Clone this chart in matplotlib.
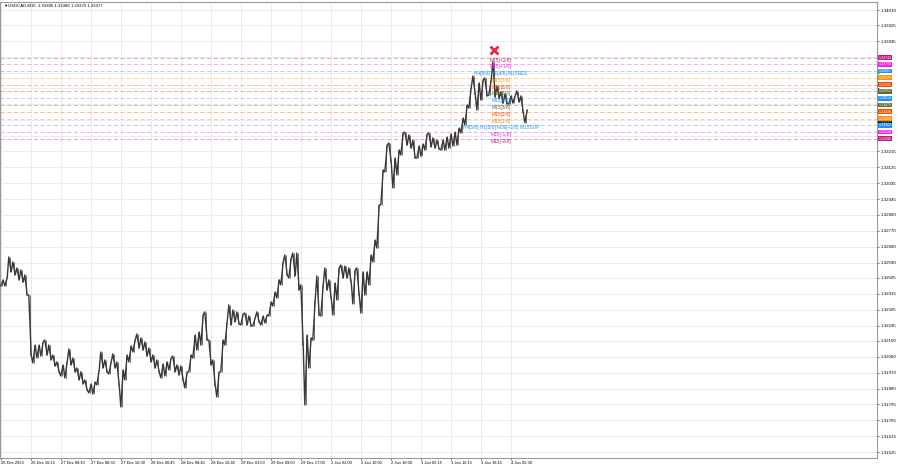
import numpy as np
import matplotlib
matplotlib.use("Agg")
import matplotlib.pyplot as plt

plt.rcParams['font.family'] = ['Liberation Sans', 'DejaVu Sans']

# USDCAD M15 price envelope, one sample per group of bars (high / low)
highs = [1.32493, 1.32504, 1.32622, 1.32594, 1.32560, 1.32549, 1.32521, 1.32408, 1.32127, 1.32127,
         1.32144, 1.32155, 1.32127, 1.32071, 1.32032, 1.32015, 1.32032, 1.32105, 1.32054, 1.31998,
         1.31976, 1.31931, 1.31908, 1.31919, 1.31987, 1.32088, 1.32043, 1.32032, 1.32077, 1.32032,
         1.31987, 1.32071, 1.32122, 1.32155, 1.32189, 1.32167, 1.32144, 1.32110, 1.32071, 1.32043,
         1.32020, 1.32032, 1.32054, 1.32065, 1.32015, 1.32009, 1.31976, 1.32071, 1.32183, 1.32200,
         1.32296, 1.32313, 1.32155, 1.32043, 1.31976, 1.32155, 1.32257, 1.32352, 1.32324, 1.32313,
         1.32301, 1.32307, 1.32290, 1.32279, 1.32313, 1.32290, 1.32296, 1.32369, 1.32425, 1.32493,
         1.32594, 1.32633, 1.32616, 1.32644, 1.32644, 1.32465, 1.32183, 1.32167, 1.32380, 1.32515,
         1.32465, 1.32560, 1.32493, 1.32476, 1.32560, 1.32577, 1.32571, 1.32560, 1.32549, 1.32560,
         1.32538, 1.32538, 1.32633, 1.32717, 1.32914, 1.33111, 1.33251, 1.33263, 1.33178, 1.33223,
         1.33319, 1.33324, 1.33308, 1.33279, 1.33246, 1.33257, 1.33313, 1.33319, 1.33291, 1.33279,
         1.33279, 1.33296, 1.33313, 1.33324, 1.33347, 1.33403, 1.33476, 1.33572, 1.33639, 1.33600,
         1.33617, 1.33628, 1.33617, 1.33718, 1.33583, 1.33549, 1.33538, 1.33527, 1.33527, 1.33555,
         1.33527, 1.33448]
lows = [1.32459, 1.32459, 1.32538, 1.32521, 1.32493, 1.32481, 1.32408, 1.32071, 1.32026, 1.32054,
        1.32065, 1.32071, 1.32043, 1.32009, 1.31976, 1.31953, 1.31942, 1.32015, 1.31976, 1.31931,
        1.31908, 1.31874, 1.31858, 1.31852, 1.31903, 1.31998, 1.31976, 1.31964, 1.31998, 1.31903,
        1.31779, 1.31931, 1.32032, 1.32088, 1.32110, 1.32099, 1.32065, 1.32032, 1.31998, 1.31976,
        1.31942, 1.31953, 1.31987, 1.31976, 1.31959, 1.31931, 1.31886, 1.31976, 1.32054, 1.32099,
        1.32127, 1.32155, 1.32015, 1.31903, 1.31835, 1.31976, 1.32127, 1.32240, 1.32257, 1.32245,
        1.32240, 1.32240, 1.32234, 1.32234, 1.32257, 1.32240, 1.32251, 1.32290, 1.32346, 1.32391,
        1.32465, 1.32521, 1.32504, 1.32515, 1.32436, 1.32127, 1.31790, 1.31998, 1.32155, 1.32296,
        1.32290, 1.32436, 1.32391, 1.32296, 1.32380, 1.32504, 1.32504, 1.32481, 1.32358, 1.32408,
        1.32307, 1.32408, 1.32465, 1.32594, 1.32672, 1.32914, 1.33100, 1.33156, 1.33010, 1.33083,
        1.33195, 1.33251, 1.33234, 1.33178, 1.33178, 1.33189, 1.33223, 1.33240, 1.33234, 1.33229,
        1.33223, 1.33223, 1.33234, 1.33246, 1.33251, 1.33319, 1.33364, 1.33459, 1.33538, 1.33448,
        1.33504, 1.33527, 1.33532, 1.33521, 1.33515, 1.33487, 1.33482, 1.33482, 1.33487, 1.33493,
        1.33437, 1.33377]

time_labels = ["26 Dec 2023", "26 Dec 16:15", "27 Dec 00:30", "27 Dec 08:30", "27 Dec 16:30",
               "28 Dec 00:45", "28 Dec 08:45", "28 Dec 16:45", "29 Dec 01:00", "29 Dec 09:00",
               "29 Dec 17:00", "2 Jan 02:00", "2 Jan 10:00", "2 Jan 18:00", "3 Jan 02:15",
               "3 Jan 10:15", "3 Jan 18:15", "4 Jan 02:30"]

price_ticks = [1.34010, 1.33925, 1.33835, 1.33745, 1.33655, 1.33570, 1.33480, 1.33390, 1.33300,
               1.33215, 1.33125, 1.33035, 1.32945, 1.32860, 1.32770, 1.32680, 1.32590, 1.32505,
               1.32415, 1.32325, 1.32235, 1.32150, 1.32060, 1.31970, 1.31880, 1.31795, 1.31705,
               1.31615, 1.31525]
# tick labels covered by the level price boxes in the terminal
hidden_ticks = [1.33745, 1.33655, 1.33570, 1.33480, 1.33390, 1.33300]

# Murrey math levels
levels = [1.33743, 1.33705, 1.33667, 1.33629, 1.33591, 1.33553, 1.33514, 1.33476, 1.33438,
          1.33400, 1.33362, 1.33324, 1.33286]
level_names = ["M15[+2/8]", "M15[+1/8]", "H4[8/8] H1[8/8] M15RES", "M15[7/8]", "M15[6/8]",
               "M15[5/8]", "M15[4/8]", "M15[3/8]", "M15[2/8]", "M15[1/8]",
               "H4[5/8] H1[5/8] M30[+2/8] M15SUP", "M15[-1/8]", "M15[-2/8]"]
level_colors = ["#c8157f", "#f21ff2", "#1e90ff", "#ff8c00", "#ff4500", "#556b2f", "#1e90ff",
                "#556b2f", "#ff4500", "#ff8c00", "#1e90ff", "#f21ff2", "#c8157f"]

last_price = 1.33377
marker_price = 1.33785
header = "USDCAD,M15  1.33386 1.33386 1.33375 1.33377"

fig = plt.figure(figsize=(9, 4.68), dpi=100)
ax = fig.add_axes([0.0, 0.0214, 0.9745, 0.9743])

xs = np.arange(len(highs)) * 4 + 2

# zig-zag through each sample's high and low so it reads like dense candles
zx, zy = [], []
mids = [(h + l) / 2 for h, l in zip(highs, lows)]
for i in range(len(highs)):
    nxt = mids[i + 1] if i + 1 < len(mids) else mids[i]
    if nxt >= mids[i]:
        pair = (lows[i], highs[i])
    else:
        pair = (highs[i], lows[i])
    zx += [xs[i] - 1.2, xs[i] + 1.2]
    zy += list(pair)
ax.plot(zx, zy, color='#383838', lw=1.0, zorder=4)
ax.vlines(xs, lows, highs, color='#707070', lw=0.7, zorder=3)

ax.set_xlim(0, 877)
ax.set_ylim(1.31492, 1.34055)

tick_x = np.arange(len(time_labels)) * 30 + 1
ax.set_xticks(tick_x)
ax.set_xticklabels(time_labels, fontsize=2.9, ha='left')
ax.set_yticks(price_ticks)
ax.set_yticklabels(["" if p in hidden_ticks else "%.5f" % p for p in price_ticks], fontsize=3.2)
ax.yaxis.tick_right()
ax.tick_params(axis='y', length=1.5, pad=1.2, width=0.4)
ax.tick_params(axis='x', length=1.5, pad=0.8, width=0.4)
ax.grid(True, color='#ebebeb', lw=0.7, zorder=0)
for s in ax.spines.values():
    s.set_color('#9a9a9a')
    s.set_linewidth(0.8)

# levels, labels and price boxes
ytr = ax.get_yaxis_transform()
ax.text(1.002, last_price, "%.5f" % last_price, transform=ytr, fontsize=2.6, color='white',
        va='center', ha='left', zorder=6,
        bbox=dict(boxstyle='square,pad=0.1', fc='black', ec='none'))
for lv, name, col in zip(levels, level_names, level_colors):
    ax.axhline(lv, color=col, lw=0.6, ls=(0, (5, 3)), alpha=0.45, zorder=2)
    ax.text(501, lv, name, color=col, fontsize=3.4, ha='center', va='top', zorder=5)
    ax.text(1.002, lv, "%.5f" % lv, transform=ytr, fontsize=2.6, color='white',
            va='center', ha='left', zorder=7,
            bbox=dict(boxstyle='square,pad=0.1', fc=col, ec='none'))

ax.plot(xs[123], marker_price, marker='x', color='#e8283c', ms=6, mew=2, zorder=8)

fig.text(0.003, 0.992, "\u25bc", fontsize=3, va='top', ha='left')
fig.text(0.009, 0.992, header, fontsize=3.1, va='top', ha='left')

fig.savefig("out.png", dpi=100)
